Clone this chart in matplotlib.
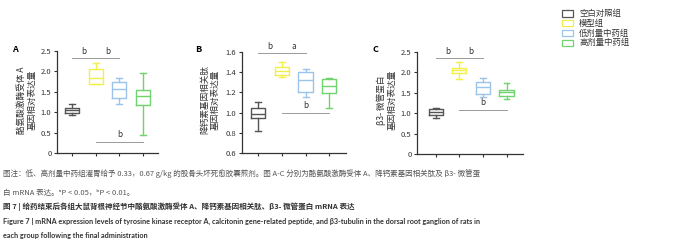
import matplotlib.pyplot as plt

plt.rcParams['font.family'] = ['Noto Sans CJK SC', 'DejaVu Sans']

groups = ['空白对照组', '模型组', '低剂量中药组', '高剂量中药组']
colors = ['#555555', '#f2ee4a', '#9cc3ea', '#6fd46f']

# per panel: whisker low, q1, median, q3, whisker high
a_lo = [0.92, 1.70, 1.19, 0.43]
a_q1 = [0.99, 1.70, 1.36, 1.17]
a_med = [1.06, 1.84, 1.58, 1.40]
a_q3 = [1.11, 2.05, 1.73, 1.54]
a_hi = [1.20, 2.21, 1.84, 1.97]

b_lo = [0.82, 1.35, 1.15, 1.05]
b_q1 = [0.95, 1.37, 1.20, 1.19]
b_med = [0.99, 1.41, 1.32, 1.26]
b_q3 = [1.05, 1.45, 1.40, 1.33]
b_hi = [1.10, 1.50, 1.43, 1.34]

c_lo = [0.89, 1.83, 1.40, 1.36]
c_q1 = [0.95, 1.99, 1.48, 1.43]
c_med = [1.02, 2.06, 1.63, 1.51]
c_q3 = [1.10, 2.12, 1.77, 1.58]
c_hi = [1.12, 2.25, 1.87, 1.73]

ylabels = ['酪氨酸激酶受体 A\n基因相对表达量',
           '降钙素基因相关肽\n基因相对表达量',
           'β3- 微管蛋白\n基因相对表达量']
letters = ['A', 'B', 'C']
# significance: (top y, top labels), (bottom y, bottom label)
sig_top = [(2.34, ['b', 'b']), (1.59, ['b', 'a']), (2.36, ['b', 'b'])]
sig_bot = [(0.28, 'b'), (1.00, 'b'), (1.09, 'b')]

W, H = 700, 249
fig = plt.figure(figsize=(7, 2.49), dpi=100)

def px_axes(left, top, right, bottom):
    return fig.add_axes([left / W, 1 - bottom / H, (right - left) / W, (bottom - top) / H])

boxes = [(57, 51, 158, 153), (242, 52, 346, 153), (417, 52, 523, 154)]
xlims = [(-0.63, 3.63), (-0.67, 3.7), (-0.8, 3.7)]
ylims = [(0, 2.5), (0.6, 1.6), (0, 2.5)]
yticks = [[0, 0.5, 1.0, 1.5, 2.0, 2.5], [0.6, 0.8, 1.0, 1.2, 1.4, 1.6], [0, 0.5, 1.0, 1.5, 2.0, 2.5]]
yticklabels = [['0', '0.5', '1.0', '1.5', '2.0', '2.5'],
               ['0.6', '0.8', '1.0', '1.2', '1.4', '1.6'],
               ['0', '0.5', '1.0', '1.5', '2.0', '2.5']]
data = [(a_lo, a_q1, a_med, a_q3, a_hi), (b_lo, b_q1, b_med, b_q3, b_hi), (c_lo, c_q1, c_med, c_q3, c_hi)]
label_x = [27, 210, 387]
letter_x = [12, 195, 373]

for i in range(3):
    ax = px_axes(*boxes[i])
    lo, q1, med, q3, hi = data[i]
    stats = [dict(whislo=lo[k], q1=q1[k], med=med[k], q3=q3[k], whishi=hi[k], fliers=[])
             for k in range(4)]
    for k in range(4):
        ax.bxp([stats[k]], positions=[k], widths=0.6, showfliers=False,
               boxprops=dict(color=colors[k], lw=1.0),
               medianprops=dict(color=colors[k], lw=1.0),
               whiskerprops=dict(color=colors[k], lw=1.0),
               capprops=dict(color=colors[k], lw=1.0), capwidths=0.25)
    ax.set_xlim(*xlims[i])
    ax.set_ylim(*ylims[i])
    ax.set_yticks(yticks[i])
    ax.set_yticklabels(yticklabels[i], fontsize=5.5, color='#333333')
    ax.set_xticks(range(4))
    ax.set_xticklabels([])
    ax.tick_params(length=2.5, width=0.8, colors='#333333', labelcolor='#333333', pad=1.5)
    for s in ['top', 'right']:
        ax.spines[s].set_visible(False)
    for s in ['left', 'bottom']:
        ax.spines[s].set_linewidth(0.9)
        ax.spines[s].set_color('#333333')
    ytop, tl = sig_top[i]
    ax.plot([0, 2], [ytop, ytop], color='#999999', lw=0.7, clip_on=False)
    span = ylims[i][1] - ylims[i][0]
    ax.text(0.5, ytop + span * 0.015, tl[0], ha='center', va='bottom', fontsize=6, color='#333333')
    ax.text(1.5, ytop + span * 0.015, tl[1], ha='center', va='bottom', fontsize=6, color='#333333')
    ybot, bl = sig_bot[i]
    ax.plot([1, 3], [ybot, ybot], color='#999999', lw=0.7)
    ax.text(2, ybot + span * 0.025, bl, ha='center', va='bottom', fontsize=6, color='#333333')
    fig.text(label_x[i] / W, 1 - 100 / H, ylabels[i], rotation=90, ha='center', va='center',
             fontsize=6.2, color='#333333', linespacing=1.25)
    fig.text(letter_x[i] / W, 1 - 49 / H, letters[i],
             fontsize=6.5, fontweight='bold', ha='left', va='center')

# legend
for k in range(4):
    y = 1 - (13.5 + 9.8 * k) / H
    fig.patches.append(plt.Rectangle((562 / W, y - 3.2 / H), 11 / W, 6.4 / H,
                                     transform=fig.transFigure, fill=False,
                                     edgecolor=colors[k], lw=0.9))
    fig.text(579 / W, y, groups[k], fontsize=6, va='center', ha='left', color='#333333')

cap_color = '#555555'
fig.text(3 / W, 1 - 174 / H,
         '图注：低、高剂量中药组灌胃给予 0.33，0.67 g/kg 的股骨头坏死愈胶囊煎剂。图 A-C 分别为酪氨酸激酶受体 A、降钙素基因相关肽及 β3- 微管蛋',
         fontsize=5.45, va='center', color=cap_color)
fig.text(3 / W, 1 - 193 / H, '白 mRNA 表达。ᵃP < 0.05，ᵇP < 0.01。',
         fontsize=5.45, va='center', color=cap_color)
fig.text(3 / W, 1 - 207 / H,
         '图 7 | 给药结束后各组大鼠背根神经节中酪氨酸激酶受体 A、降钙素基因相关肽、β3- 微管蛋白 mRNA 表达',
         fontsize=5.45, va='center', color='#333333', fontweight='bold')
fig.text(3 / W, 1 - 221 / H,
         'Figure 7 | mRNA expression levels of tyrosine kinase receptor A, calcitonin gene-related peptide, and β3-tubulin in the dorsal root ganglion of rats in',
         fontsize=5.25, va='center', color='#333333', fontweight='bold', family=['Lato', 'DejaVu Sans'])
fig.text(3 / W, 1 - 235 / H, 'each group following the final administration',
         fontsize=5.25, va='center', color='#333333', fontweight='bold', family=['Lato', 'DejaVu Sans'])

fig.savefig('out.png', dpi=100)
